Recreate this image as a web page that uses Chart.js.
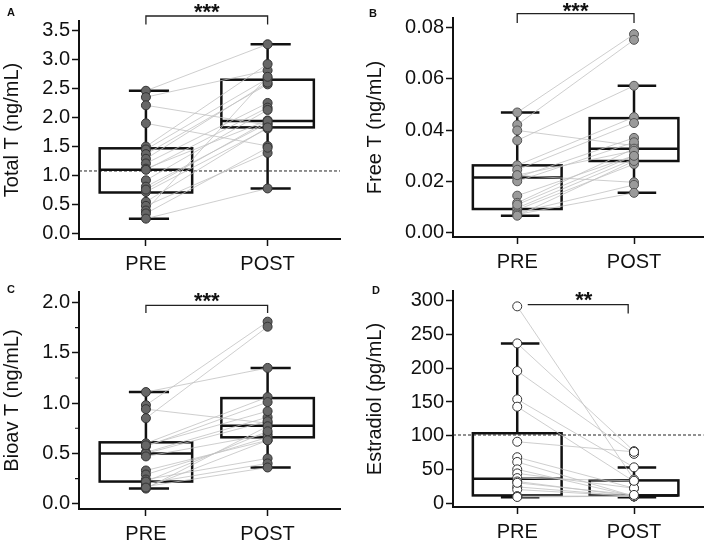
<!DOCTYPE html>
<html>
<head>
<meta charset="utf-8">
<script src="https://cdn.jsdelivr.net/npm/chart.js@4.4.1/dist/chart.umd.min.js"></script>
<style>
  body { margin: 0; background: #fff; }
  #wrap { position: relative; width: 709px; height: 543px; }
  canvas { position: absolute; }
</style>
</head>
<body>
<div id="wrap">
  <canvas id="panelA" width="355" height="270" style="left:0;top:0"></canvas>
  <canvas id="panelB" width="354" height="270" style="left:355px;top:0"></canvas>
  <canvas id="panelC" width="355" height="273" style="left:0;top:270px"></canvas>
  <canvas id="panelD" width="354" height="273" style="left:355px;top:270px"></canvas>
</div>
<script>
const groups = ['PRE', 'POST'];

// A - total testosterone, paired PRE/POST per subject
const totalTPre  = [2.46, 2.35, 2.21, 1.90, 1.50, 1.45, 1.37, 1.29, 1.21, 1.12, 1.10, 0.92, 0.81, 0.72, 0.76, 0.55, 0.48, 0.40, 0.35, 0.26];
const totalTPost = [3.26, 2.81, 1.87, 1.51, 2.92, 2.67, 2.57, 2.60, 2.25, 1.95, 2.17, 2.13, 1.90, 1.81, 1.94, 1.83, 1.39, 2.70, 1.48, 0.78];
// whisker low, Q1, median, Q3, whisker high
const totalTBox = [[0.26, 0.71, 1.10, 1.47, 2.46], [0.78, 1.83, 1.94, 2.65, 3.26]];
const totalTTicks = [0, 0.5, 1, 1.5, 2, 2.5, 3, 3.5];
const totalTRef = 1.08;

// B - free testosterone
const freeTPre  = [0.0469, 0.0421, 0.0399, 0.0360, 0.0263, 0.0246, 0.0224, 0.0216, 0.0201, 0.0145, 0.0117, 0.0097, 0.0090, 0.0078, 0.0072, 0.0067, 0.0225, 0.0110];
const freeTPost = [0.0774, 0.0752, 0.0340, 0.0573, 0.0451, 0.0428, 0.0197, 0.0370, 0.0353, 0.0301, 0.0328, 0.0288, 0.0268, 0.0187, 0.0156, 0.0280, 0.0320, 0.0300];
const freeTBox = [[0.0067, 0.0093, 0.0216, 0.0263, 0.0469], [0.0156, 0.0280, 0.0328, 0.0447, 0.0573]];
const freeTTicks = [0, 0.02, 0.04, 0.06, 0.08];

// C - bioavailable testosterone
const bioavTPre  = [1.11, 0.98, 0.94, 0.85, 0.60, 0.57, 0.51, 0.50, 0.47, 0.33, 0.29, 0.24, 0.20, 0.17, 0.15, 0.58, 0.22, 0.16];
const bioavTPost = [1.35, 1.81, 0.80, 1.76, 1.06, 1.01, 0.86, 0.82, 0.69, 0.63, 0.66, 0.45, 0.40, 0.36, 0.77, 0.92, 0.72, 0.63];
const bioavTBox = [[0.15, 0.22, 0.50, 0.61, 1.11], [0.36, 0.66, 0.775, 1.05, 1.35]];
const bioavTTicks = [0, 0.5, 1, 1.5, 2];
const bioavTMinor = [0.25, 0.75, 1.25, 1.75];

// D - estradiol
const estradiolPre  = [292, 237, 196, 154, 143, 91, 68, 61, 50, 44, 37, 32, 24, 20, 10, 10, 9, 30];
const estradiolPost = [35, 77, 73, 53, 32, 76, 22, 10, 10, 22, 33, 10, 10, 10, 10, 10, 10, 12];
const estradiolBox = [[8.4, 11.3, 36, 103.6, 236.8], [8.4, 11.3, 11.3, 33.6, 52.8]];
const estradiolTicks = [0, 50, 100, 150, 200, 250, 300];
const estradiolRef = 101;

const FONT = "'Liberation Sans', Arial, Helvetica, sans-serif";
const INK = '#111';

function panelPlugin(o) {
    return {
        id: 'panel' + o.letter,
        beforeDatasetsDraw(chart) {
            const { ctx, chartArea, scales: { x, y } } = chart;
            ctx.save();
            if (o.ref != null) {
                const py = y.getPixelForValue(o.ref);
                ctx.strokeStyle = '#222';
                ctx.lineWidth = 1;
                ctx.setLineDash([3, 2]);
                ctx.beginPath();
                ctx.moveTo(chartArea.left, py);
                ctx.lineTo(chartArea.right, py);
                ctx.stroke();
                ctx.setLineDash([]);
            }
            ctx.strokeStyle = INK;
            ctx.lineWidth = 2.5;
            o.box.forEach((s, i) => {
                const [lo, q1, med, q3, hi] = s;
                const cx = i + 1;
                const X = v => x.getPixelForValue(v);
                const Y = v => y.getPixelForValue(v);
                const l = X(cx - 0.38), r = X(cx + 0.38), c = X(cx);
                const cl = X(cx - 0.14), cr = X(cx + 0.19);
                ctx.strokeRect(l, Y(q3), r - l, Y(q1) - Y(q3));
                ctx.beginPath();
                ctx.moveTo(l, Y(med)); ctx.lineTo(r, Y(med));
                ctx.moveTo(c, Y(q3)); ctx.lineTo(c, Y(hi));
                ctx.moveTo(c, Y(q1)); ctx.lineTo(c, Y(lo));
                ctx.moveTo(cl, Y(hi)); ctx.lineTo(cr, Y(hi));
                ctx.moveTo(cl, Y(lo)); ctx.lineTo(cr, Y(lo));
                ctx.stroke();
            });
            ctx.restore();
        },
        afterDraw(chart) {
            const { ctx, chartArea, scales: { x, y } } = chart;
            ctx.save();
            // minor y ticks
            if (o.minor) {
                ctx.strokeStyle = INK;
                ctx.lineWidth = 1.2;
                ctx.beginPath();
                o.minor.forEach(v => {
                    const py = y.getPixelForValue(v);
                    ctx.moveTo(chartArea.left, py);
                    ctx.lineTo(chartArea.left - 4, py);
                });
                ctx.stroke();
            }
            // significance bracket
            const b = o.bracket;
            const x1 = x.getPixelForValue(b.from), x2 = x.getPixelForValue(b.to);
            const yb = chartArea.top + b.line, yt = chartArea.top + b.tick;
            ctx.strokeStyle = '#222';
            ctx.lineWidth = 1.3;
            ctx.beginPath();
            if (b.leftTick) { ctx.moveTo(x1, yt); ctx.lineTo(x1, yb); } else { ctx.moveTo(x1, yb); }
            ctx.lineTo(x2, yb);
            ctx.lineTo(x2, yt);
            ctx.stroke();
            ctx.fillStyle = INK;
            ctx.font = 'bold 22px ' + FONT;
            ctx.textAlign = 'center';
            ctx.textBaseline = 'alphabetic';
            ctx.fillText(o.stars, x.getPixelForValue(b.textAt), chartArea.top + b.text);
            // panel letter
            ctx.font = 'bold 11px ' + FONT;
            ctx.textAlign = 'left';
            ctx.fillText(o.letter, o.letterPos[0], o.letterPos[1]);
            ctx.restore();
        }
    };
}

function drawPanel(id, o) {
    const pointData = o.pre.map(v => ({ x: 1, y: v })).concat(o.post.map(v => ({ x: 2, y: v })));
    const datasets = [{
        data: pointData,
        pointRadius: 4.5,
        pointBackgroundColor: o.fill,
        pointBorderColor: o.edge,
        pointBorderWidth: 1
    }];
    o.pre.forEach((v, i) => {
        datasets.push({
            data: [{ x: 1, y: v }, { x: 2, y: o.post[i] }],
            showLine: true,
            borderColor: '#c2c2c2',
            borderWidth: 0.8,
            pointRadius: 0
        });
    });

    new Chart(document.getElementById(id), {
        type: 'scatter',
        data: { datasets },
        options: {
            responsive: false,
            animation: false,
            layout: { padding: { left: 0, right: o.pad.right, top: o.pad.top, bottom: 0 } },
            plugins: { legend: { display: false }, tooltip: { enabled: false } },
            scales: {
                x: {
                    type: 'linear',
                    min: 0.45,
                    max: 2.595,
                    afterBuildTicks: s => { s.ticks = [{ value: 1 }, { value: 2 }]; },
                    afterFit: s => { s.height = o.pad.xHeight; },
                    grid: { drawOnChartArea: false, tickLength: 7, tickWidth: 1.5, tickColor: INK },
                    border: { display: true, color: INK, width: 2 },
                    ticks: {
                        padding: 6,
                        color: INK,
                        font: { family: FONT, size: 20 },
                        callback: v => groups[v - 1]
                    }
                },
                y: {
                    min: o.yMin,
                    max: o.yMax,
                    afterBuildTicks: s => { s.ticks = o.ticks.map(v => ({ value: v })); },
                    afterFit: s => { s.width = o.pad.yWidth; },
                    grid: { drawOnChartArea: false, tickLength: 7, tickWidth: 1.5, tickColor: INK },
                    border: { display: true, color: INK, width: 2 },
                    ticks: {
                        padding: 2,
                        color: INK,
                        font: { family: FONT, size: 20 },
                        callback: v => v.toFixed(o.decimals)
                    },
                    title: {
                        display: true,
                        text: o.title,
                        color: INK,
                        padding: { top: o.pad.title, bottom: 0 },
                        font: { family: FONT, size: 20, lineHeight: 1.2 }
                    }
                }
            }
        },
        plugins: [panelPlugin(o)]
    });
}

drawPanel('panelA', {
    letter: 'A', letterPos: [7, 16], stars: '***',
    pre: totalTPre, post: totalTPost, box: totalTBox, ticks: totalTTicks, ref: totalTRef,
    yMin: -0.09, yMax: 3.66, decimals: 1, title: 'Total T (ng/mL)',
    fill: '#666', edge: '#333',
    pad: { right: 15, top: 21, xHeight: 31, yWidth: 79, title: 0 },
    bracket: { from: 1, to: 2, line: -5, tick: 3.5, leftTick: true, text: -2, textAt: 1.5 }
});

drawPanel('panelB', {
    letter: 'B', letterPos: [14, 17], stars: '***',
    pre: freeTPre, post: freeTPost, box: freeTBox, ticks: freeTTicks,
    yMin: -0.0016, yMax: 0.0837, decimals: 2, title: 'Free T (ng/mL)',
    fill: '#9a9a9a', edge: '#555',
    pad: { right: 4, top: 18, xHeight: 33, yWidth: 98, title: 8 },
    bracket: { from: 1, to: 2, line: -4.3, tick: 5, leftTick: true, text: 0, textAt: 1.5 }
});

drawPanel('panelC', {
    letter: 'C', letterPos: [7, 23], stars: '***',
    pre: bioavTPre, post: bioavTPost, box: bioavTBox, ticks: bioavTTicks, minor: bioavTMinor,
    yMin: -0.053, yMax: 2.105, decimals: 1, title: 'Bioav T (ng/mL)',
    fill: '#666', edge: '#333',
    pad: { right: 15, top: 22, xHeight: 34, yWidth: 79, title: 0 },
    bracket: { from: 1, to: 2, line: 13.3, tick: 21, leftTick: true, text: 16, textAt: 1.5 }
});

drawPanel('panelD', {
    letter: 'D', letterPos: [17, 24], stars: '**',
    pre: estradiolPre, post: estradiolPost, box: estradiolBox, ticks: estradiolTicks, ref: estradiolRef,
    yMin: -5.9, yMax: 314.8, decimals: 0, title: 'Estradiol (pg/mL)',
    fill: '#fff', edge: '#333',
    pad: { right: 4, top: 21, xHeight: 36, yWidth: 98, title: 8 },
    bracket: { from: 1.09, to: 1.95, line: 13.6, tick: 22.6, leftTick: false, text: 16, textAt: 1.57 }
});
</script>
</body>
</html>
